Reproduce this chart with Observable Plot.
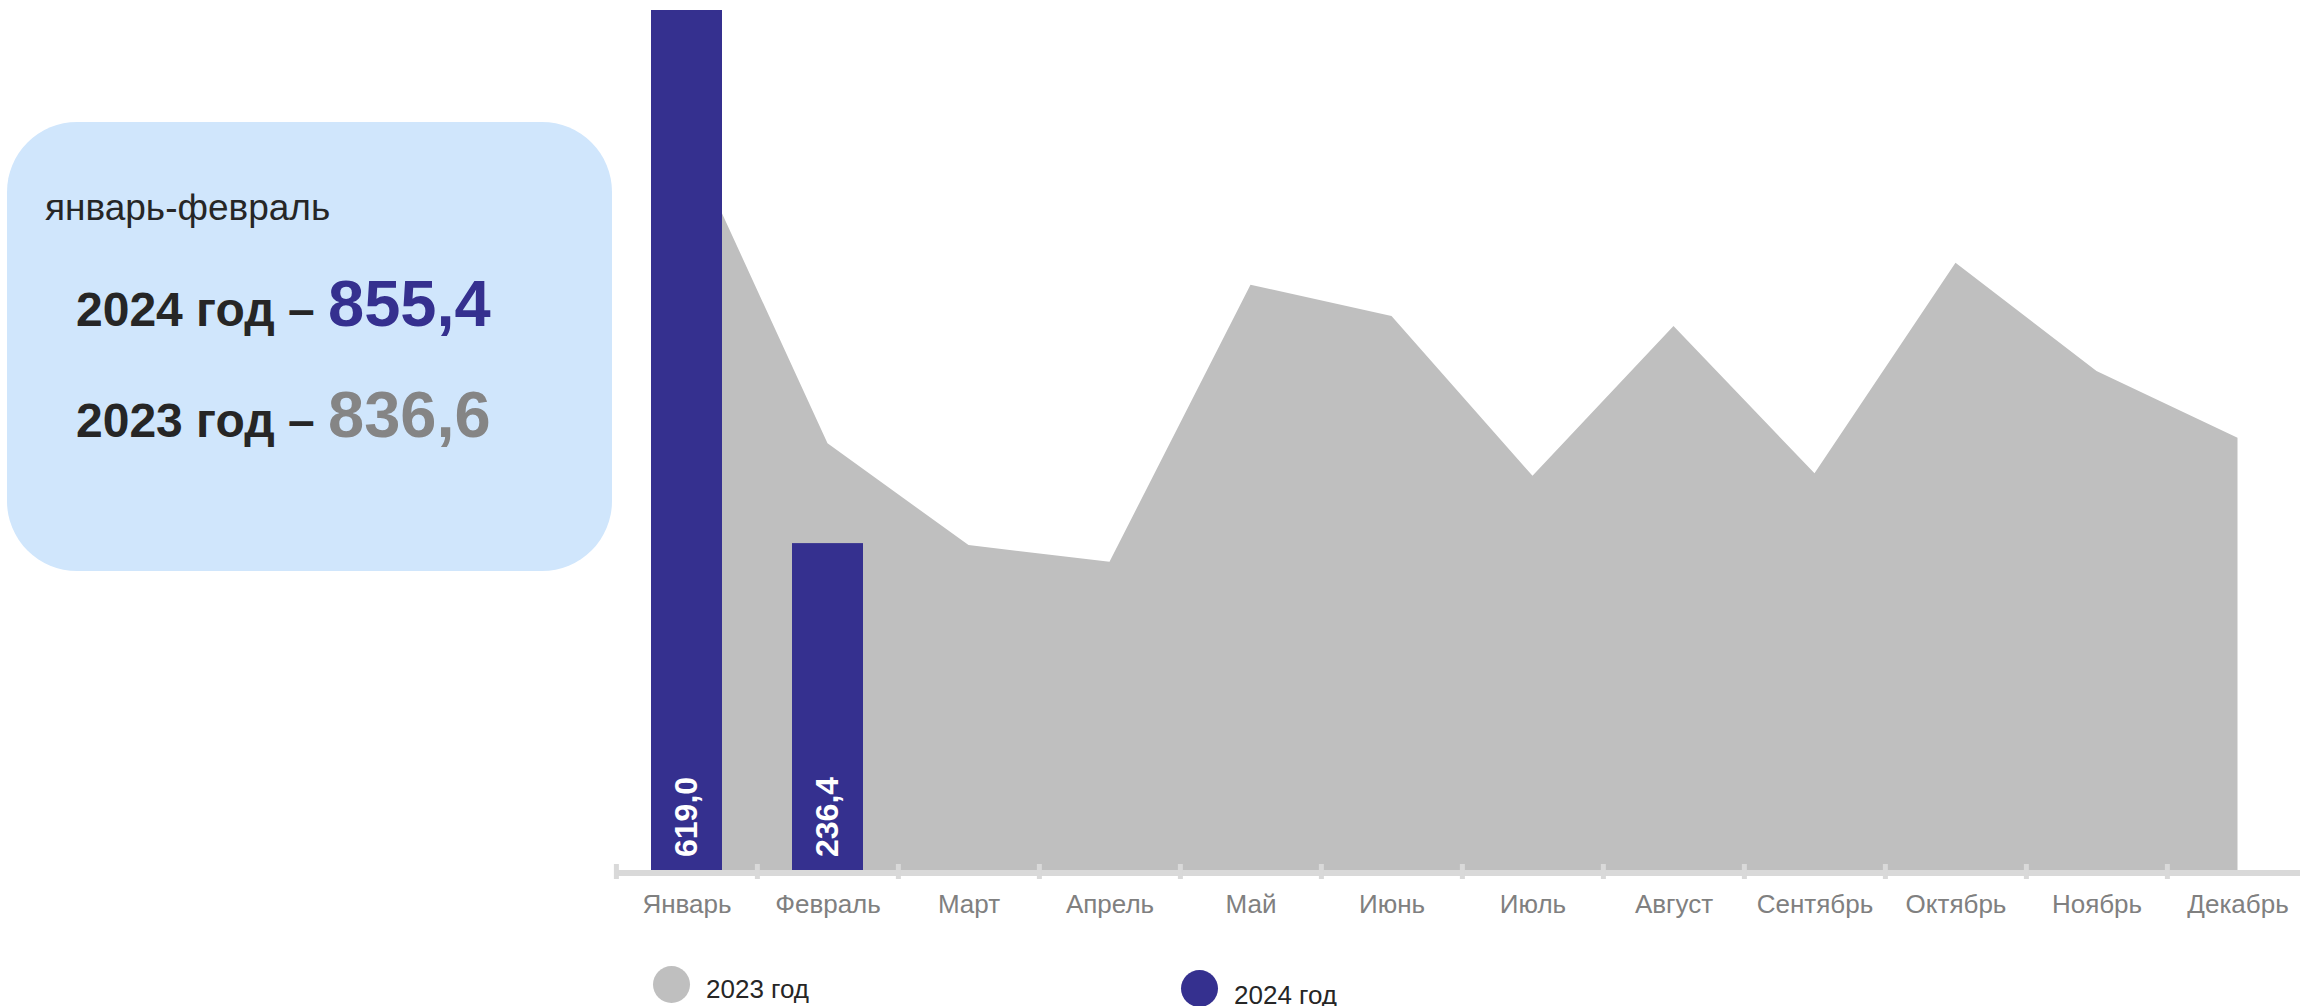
<!DOCTYPE html>
<html>
<head>
<meta charset="utf-8">
<script src="https://cdn.jsdelivr.net/npm/d3@7"></script>
<script src="https://cdn.jsdelivr.net/npm/@observablehq/plot@0.6"></script>
<style>
  html, body { margin: 0; padding: 0; background: #fff; width: 2300px; height: 1006px; overflow: hidden; }
  body { position: relative; font-family: "Liberation Sans", Arial, sans-serif; }
  #chart { position: absolute; left: 0; top: 0; width: 2310px; }
  #box { position: absolute; left: 7px; top: 122px; width: 605px; height: 449px; background: #d0e6fc; border-radius: 70px; z-index: 2; }
  .abs { position: absolute; white-space: nowrap; line-height: 1; z-index: 3; }
  #period { left: 45px; top: 189px; font-size: 37px; color: #262626; }
  .row { left: 76px; font-size: 65px; font-weight: bold; color: #262626; }
  .row .lbl { font-size: 48px; }
  #row24 { top: 271px; }
  #row23 { top: 382px; }
  .legend-dot { position: absolute; width: 37px; height: 37px; border-radius: 50%; }
  .legend-txt { position: absolute; font-size: 26px; line-height: 1; color: #262626; white-space: nowrap; }
</style>
</head>
<body>
<div id="chart"></div>
<div id="box"></div>
<div id="period" class="abs"></div>
<div id="row24" class="abs row"><span class="lbl"></span><span class="num"></span></div>
<div id="row23" class="abs row"><span class="lbl"></span><span class="num"></span></div>
<div id="leg23dot" class="legend-dot" style="left:653px;top:966px;"></div>
<div id="leg23txt" class="legend-txt" style="left:706px;top:976px;"></div>
<div id="leg24dot" class="legend-dot" style="left:1181px;top:970px;"></div>
<div id="leg24txt" class="legend-txt" style="left:1234px;top:982px;"></div>
<script>
// ---- data ----
const months = ["Январь", "Февраль", "Март", "Апрель", "Май", "Июнь", "Июль", "Август", "Сентябрь", "Октябрь", "Ноябрь", "Декабрь"];
const values2023 = [528.6, 308.0, 235.0, 223.0, 421.8, 399.4, 284.7, 392.2, 286.5, 437.6, 360.0, 312.0];
const months2024 = ["Январь", "Февраль"];
const values2024 = [619.0, 236.4];
const labels2024 = ["619,0", "236,4"];
const seriesNames = ["2023 год", "2024 год"];
const periodLabel = "январь-февраль";
const totalLabels = ["2024 год – ", "2023 год – "];
const totalValues = ["855,4", "836,6"];

// ---- colours ----
const c2023 = "#bfbfbf";
const c2024 = "#35308f";
const cAxis = "#d9d9d9";
const cTick = "#808080";
const cTotal2023 = "#858585";

const data23 = months.map((m, i) => ({month: m, value: values2023[i]}));
const data24 = months2024.map((m, i) => ({month: m, value: values2024[i], label: labels2024[i]}));

const W = 2310, H = 940, mL = 614, mR = 1, mT = 10, mB = 67.5;
const step = (W - mL - mR) / months.length;

const chart = Plot.plot({
  width: W,
  height: H,
  marginLeft: mL,
  marginRight: mR,
  marginTop: mT,
  marginBottom: mB,
  style: {maxWidth: "none", background: "transparent", fontFamily: "'Liberation Sans', Arial, sans-serif", overflow: "visible"},
  x: {domain: months, paddingInner: 0.5, paddingOuter: 0.25, label: null, axis: null},
  y: {domain: [0, 619], axis: null},
  marks: [
    Plot.areaY(data23, {x: "month", y: "value", fill: c2023, curve: "linear"}),
    Plot.barY(data24, {x: "month", y: "value", fill: c2024}),
    Plot.ruleY([0], {stroke: cAxis, strokeWidth: 6}),
    Plot.axisX({tickSize: 15, dx: -step / 2, dy: -8.5, stroke: cAxis, strokeWidth: 5, strokeOpacity: 1, tickFormat: () => ""}),
    Plot.axisX({tickSize: 0, tickPadding: 22, fontSize: 26, fill: cTick, stroke: null}),
    Plot.text(data24, {x: "month", y: 0, text: "label", rotate: -90, textAnchor: "start", dy: -16, fill: "white", fontWeight: "bold", fontSize: 32})
  ]
});
document.getElementById("chart").appendChild(chart);

// ---- summary box and legend ----
document.getElementById("period").textContent = periodLabel;
const r24 = document.getElementById("row24");
r24.querySelector(".lbl").textContent = totalLabels[0];
r24.querySelector(".num").textContent = totalValues[0];
r24.querySelector(".num").style.color = c2024;
const r23 = document.getElementById("row23");
r23.querySelector(".lbl").textContent = totalLabels[1];
r23.querySelector(".num").textContent = totalValues[1];
r23.querySelector(".num").style.color = cTotal2023;

document.getElementById("leg23dot").style.background = c2023;
document.getElementById("leg24dot").style.background = c2024;
document.getElementById("leg23txt").textContent = seriesNames[0];
document.getElementById("leg24txt").textContent = seriesNames[1];
</script>
</body>
</html>
